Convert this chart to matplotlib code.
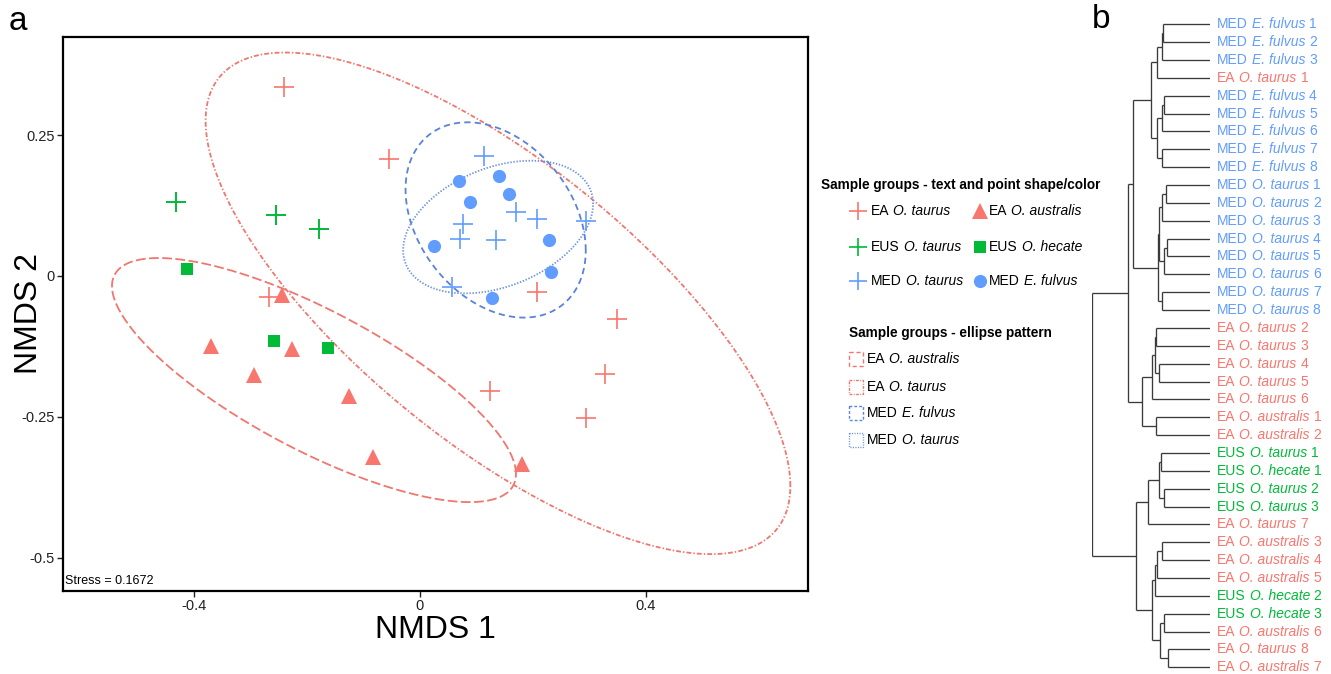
import numpy as np
import matplotlib
matplotlib.use("Agg")
import matplotlib.pyplot as plt
from matplotlib import transforms
from matplotlib.patches import Rectangle

plt.rcParams['font.family'] = ['Liberation Sans', 'DejaVu Sans']
plt.rcParams['lines.scale_dashes'] = False

# ---------------- data: NMDS scores ----------------
ea_taurus_x = [-0.241, -0.055, -0.268, 0.208, 0.349, 0.328, 0.294, 0.124]
ea_taurus_y = [0.335, 0.207, -0.037, -0.028, -0.076, -0.174, -0.252, -0.204]
ea_australis_x = [-0.245, -0.371, -0.227, -0.294, -0.126, -0.083, 0.181]
ea_australis_y = [-0.033, -0.124, -0.129, -0.176, -0.213, -0.321, -0.333]
eus_taurus_x = [-0.433, -0.255, -0.179]
eus_taurus_y = [0.131, 0.108, 0.083]
eus_hecate_x = [-0.413, -0.259, -0.163]
eus_hecate_y = [0.012, -0.115, -0.128]
med_fulvus_x = [0.069, 0.140, 0.158, 0.089, 0.025, 0.229, 0.232, 0.128]
med_fulvus_y = [0.168, 0.177, 0.145, 0.131, 0.053, 0.064, 0.007, -0.039]
med_taurus_x = [0.114, 0.170, 0.208, 0.294, 0.076, 0.071, 0.135, 0.057]
med_taurus_y = [0.213, 0.113, 0.101, 0.098, 0.092, 0.066, 0.064, -0.020]
stress = 0.1672
ellipse_level = 0.95

x_ticks = [-0.4, 0.0, 0.4]
x_tick_labels = ["-0.4", "0", "0.4"]
y_ticks = [0.25, 0.0, -0.25, -0.5]
y_tick_labels = ["0.25", "0", "-0.25", "-0.5"]

# ---------------- data: dendrogram ----------------
leaf_site = ["MED", "MED", "MED", "EA", "MED", "MED", "MED", "MED", "MED",
             "MED", "MED", "MED", "MED", "MED", "MED", "MED", "MED",
             "EA", "EA", "EA", "EA", "EA", "EA", "EA",
             "EUS", "EUS", "EUS", "EUS", "EA", "EA", "EA", "EA",
             "EUS", "EUS", "EA", "EA", "EA"]
leaf_species = ["E. fulvus", "E. fulvus", "E. fulvus", "O. taurus", "E. fulvus",
                "E. fulvus", "E. fulvus", "E. fulvus", "E. fulvus",
                "O. taurus", "O. taurus", "O. taurus", "O. taurus", "O. taurus",
                "O. taurus", "O. taurus", "O. taurus",
                "O. taurus", "O. taurus", "O. taurus", "O. taurus", "O. taurus",
                "O. australis", "O. australis",
                "O. taurus", "O. hecate", "O. taurus", "O. taurus", "O. taurus",
                "O. australis", "O. australis", "O. australis",
                "O. hecate", "O. hecate", "O. australis", "O. taurus", "O. australis"]
leaf_number = [1, 2, 3, 1, 4, 5, 6, 7, 8,
               1, 2, 3, 4, 5, 6, 7, 8,
               2, 3, 4, 5, 6, 1, 2,
               1, 1, 2, 3, 7, 3, 4, 5,
               2, 3, 6, 8, 7]
# linkage: (child a, child b, height); ids >= 37 refer to earlier merges
merge_a = [0, 37, 38, 4, 40, 7, 41, 39, 9, 45, 12, 47, 46, 15, 49, 44,
           17, 19, 53, 55, 22, 56, 52, 24, 26, 60, 62, 29, 64, 65, 33, 35,
           67, 66, 63, 59]
merge_b = [1, 2, 3, 5, 6, 8, 42, 43, 10, 11, 13, 14, 48, 16, 50, 51,
           18, 20, 54, 21, 23, 57, 58, 25, 27, 61, 28, 30, 31, 32, 34, 36,
           68, 69, 70, 71]
merge_h = [0.400, 0.406, 0.451, 0.391, 0.406, 0.406, 0.451, 0.501, 0.369,
           0.408, 0.366, 0.386, 0.431, 0.403, 0.442, 0.648,
           0.454, 0.434, 0.465, 0.488, 0.459, 0.577, 0.691,
           0.417, 0.386, 0.434, 0.527, 0.403, 0.445, 0.467, 0.386, 0.352,
           0.423, 0.493, 0.628, 1.000]

# ---------------- styles ----------------
RED, GREEN, BLUE = "#F8766D", "#00BA38", "#619CFF"
site_color = {"EA": RED, "EUS": GREEN, "MED": BLUE}

W, H = 1331, 674
fig = plt.figure(figsize=(W / 100, H / 100), dpi=100)
renderer = fig.canvas.get_renderer()


def fr(x0, y0, x1, y1):
    return [x0 / W, 1 - y1 / H, (x1 - x0) / W, (y1 - y0) / H]


# ---------------- ellipse helpers (robust t covariance, chi-square radius) ----------------
def cov_trob(x, nu=5, maxit=25, tol=0.01):
    n, p = x.shape
    wt = np.ones(n)
    loc = x.mean(axis=0)
    w = np.sqrt(wt)
    X = x - loc
    for _ in range(maxit):
        w0 = w
        X = x - loc
        A = np.sqrt(w / w.sum())[:, None] * X
        _, d, vt = np.linalg.svd(A, full_matrices=False)
        wX = X @ vt.T @ np.diag(1 / d)
        Q = (wX ** 2).sum(axis=1)
        w = (wt * (nu + p)) / (nu + Q)
        loc = (w[:, None] * x).sum(axis=0) / w.sum()
        if np.all(np.abs(w - w0) < tol):
            break
    sw = np.sqrt(w)[:, None] * X
    cov = sw.T @ sw / wt.sum()
    return loc, cov


def data_ellipse(xs, ys, level=0.95, segments=240):
    pts = np.column_stack([xs, ys])
    center, shape = cov_trob(pts)
    radius = np.sqrt(-2.0 * np.log(1 - level))
    R = np.linalg.cholesky(shape).T
    ang = np.linspace(0, 2 * np.pi, segments + 1)
    circ = np.column_stack([np.cos(ang), np.sin(ang)])
    e = center + radius * (circ @ R)
    return e[:, 0], e[:, 1]


# ---------------- panel a ----------------
ax = fig.add_axes(fr(63, 37, 808, 591))
ax.set_xlim(-0.633, 0.688)
ax.set_ylim(-0.559, 0.424)

ell_specs = [
    (ea_australis_x, ea_australis_y, "#EE7770", (0, (7, 2.5))),
    (ea_taurus_x, ea_taurus_y, "#EE7770", (0, (3.5, 1.5, 1, 1.5))),
    (med_fulvus_x, med_fulvus_y, "#5A82D8", (0, (4.5, 3))),
    (med_taurus_x, med_taurus_y, "#6E92E0", (0, (1, 1.2))),
]
for xs, ys, col, ls in ell_specs:
    ex, ey = data_ellipse(np.array(xs), np.array(ys), ellipse_level)
    ax.plot(ex, ey, color=col, lw=1.3, linestyle=ls, zorder=2)

ax.plot(ea_taurus_x, ea_taurus_y, linestyle="none", marker="+", ms=14, mew=1.2, color=RED, zorder=3)
ax.plot(eus_taurus_x, eus_taurus_y, linestyle="none", marker="+", ms=14, mew=1.4, color=GREEN, zorder=3)
ax.plot(med_taurus_x, med_taurus_y, linestyle="none", marker="+", ms=14, mew=1.2, color=BLUE, zorder=3)
ax.plot(ea_australis_x, ea_australis_y, linestyle="none", marker="^", ms=11, color=RED, mew=0, zorder=3)
ax.plot(eus_hecate_x, eus_hecate_y, linestyle="none", marker="s", ms=8.5, color=GREEN, mew=0, zorder=3)
ax.plot(med_fulvus_x, med_fulvus_y, linestyle="none", marker="o", ms=9.5, color=BLUE, mew=0, zorder=3)

ax.set_xticks(x_ticks)
ax.set_xticklabels(x_tick_labels)
ax.set_yticks(y_ticks)
ax.set_yticklabels(y_tick_labels)
ax.tick_params(direction="out", length=4, width=1, labelsize=10.5, pad=2, colors="#222222")
for sp in ax.spines.values():
    sp.set_linewidth(1.6)
ax.set_xlabel("NMDS 1", fontsize=23)
ax.xaxis.set_label_coords(0.5, -(630 - 591) / (591 - 37), transform=ax.transAxes)
ax.xaxis.label.set_va("center")
ax.set_ylabel("NMDS 2", fontsize=23)
ax.yaxis.set_label_coords(-(63 - 29) / (808 - 63), 0.5, transform=ax.transAxes)
ax.yaxis.label.set_va("center")
ax.text(0.003, 0.008, f"Stress = {stress}", transform=ax.transAxes, fontsize=9,
        ha="left", va="bottom")

# ---------------- rich text helper ----------------
def width_px(s, size, style):
    t = fig.text(0, 0, s, fontsize=size, fontstyle=style)
    w = t.get_window_extent(renderer=renderer).width
    t.remove()
    return w


def rich_text(x, y, parts, trans, color, size, weight="normal"):
    sp = width_px("x x", size, "normal") - width_px("xx", size, "normal")
    dx = 0.0
    for i, (s, style) in enumerate(parts):
        if i > 0:
            dx += sp
        tr = transforms.offset_copy(trans, fig=fig, x=dx, y=0, units="dots")
        t = fig.text(x, y, s, transform=tr, color=color, fontsize=size,
                     fontstyle=style, fontweight=weight, ha="left", va="center")
        dx += t.get_window_extent(renderer=renderer).width


# ---------------- panel b: dendrogram ----------------
n_leaf = len(leaf_site)
axd = fig.add_axes(fr(1091.7, 0, 1210, H))
row = 17.86
y_top = -24.3 / row
axd.set_xlim(1.0, 0.0)
axd.set_ylim(y_top + H / row, y_top)
axd.axis("off")

node_y = {i: float(i) for i in range(n_leaf)}
node_h = {i: 0.0 for i in range(n_leaf)}
for k, (a, b, h) in enumerate(zip(merge_a, merge_b, merge_h)):
    nid = n_leaf + k
    ya, yb = node_y[a], node_y[b]
    axd.plot([node_h[a], h], [ya, ya], color="#3a3a3a", lw=0.95, solid_capstyle="butt")
    axd.plot([node_h[b], h], [yb, yb], color="#3a3a3a", lw=0.95, solid_capstyle="butt")
    axd.plot([h, h], [ya, yb], color="#3a3a3a", lw=0.95, solid_capstyle="butt")
    node_y[nid] = (ya + yb) / 2
    node_h[nid] = h

lab_trans = transforms.offset_copy(axd.transData, fig=fig, x=7, y=0, units="dots")
for i in range(n_leaf):
    rich_text(0.0, i, [(leaf_site[i], "normal"), (leaf_species[i], "italic"),
                       (str(leaf_number[i]), "normal")],
              lab_trans, site_color[leaf_site[i]], 10)

# ---------------- legends ----------------
ov = fig.add_axes([0, 0, 1, 1])
ov.set_xlim(0, W)
ov.set_ylim(H, 0)
ov.axis("off")
ov.patch.set_visible(False)
pix = ov.transData

fig.text(821 / W, 1 - 185 / H, "Sample groups - text and point shape/color",
         fontsize=9.8, fontweight="bold", va="center", ha="left")
shape_rows = [
    (211, RED, "EA", "O. taurus", "^", "EA", "O. australis", 11),
    (247, GREEN, "EUS", "O. taurus", "s", "EUS", "O. hecate", 8.5),
    (281, BLUE, "MED", "O. taurus", "o", "MED", "E. fulvus", 9.5),
]
for yy, col, s1, sp1, mk, s2, sp2, ms in shape_rows:
    ov.plot(858, yy, marker="+", ms=13, mew=1.2, color=col)
    rich_text(871, yy, [(s1, "normal"), (sp1, "italic")], pix, "black", 10)
    ov.plot(980, yy, marker=mk, ms=ms, mew=0, color=col)
    rich_text(989, yy, [(s2, "normal"), (sp2, "italic")], pix, "black", 10)

fig.text(849 / W, 1 - 333 / H, "Sample groups - ellipse pattern",
         fontsize=9.8, fontweight="bold", va="center", ha="left")
ell_legend = [
    (359, "#EE7770", (0, (3, 2)), "EA", "O. australis"),
    (387, "#EE7770", (0, (2, 1, 0.7, 1)), "EA", "O. taurus"),
    (413, "#5A82D8", (0, (2, 1.5)), "MED", "E. fulvus"),
    (440, "#6E92E0", (0, (0.8, 1)), "MED", "O. taurus"),
]
for yy, col, ls, s1, sp1 in ell_legend:
    ov.add_patch(Rectangle((849, yy - 7), 14, 14, fill=False, edgecolor=col,
                           lw=1.0, linestyle=ls))
    rich_text(867, yy, [(s1, "normal"), (sp1, "italic")], pix, "black", 10)

fig.text(9 / W, 1 - 22 / H, "a", fontsize=24, va="center", ha="left")
fig.text(1092 / W, 1 - 20 / H, "b", fontsize=24, va="center", ha="left")

fig.savefig("out.png", dpi=100)
